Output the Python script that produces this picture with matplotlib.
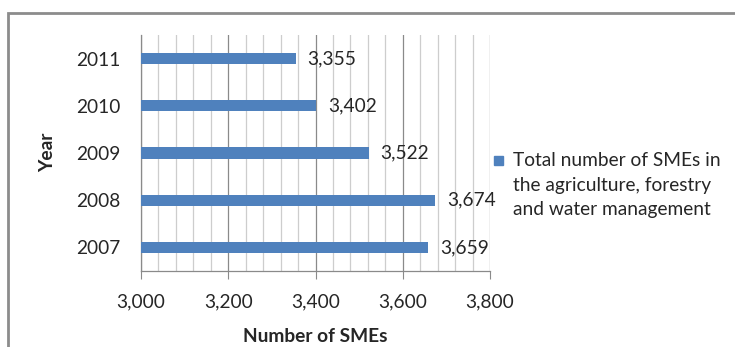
import matplotlib
matplotlib.use("Agg")
import matplotlib.pyplot as plt
from matplotlib.patches import Rectangle
from matplotlib.ticker import MultipleLocator, FuncFormatter

years = ["2007", "2008", "2009", "2010", "2011"]
smes = [3659, 3674, 3522, 3402, 3355]
series_lines = ["Total number of SMEs in",
                "the agriculture, forestry",
                "and water management"]

plt.rcParams["font.family"] = ["Lato", "DejaVu Sans"]
bar_color = "#4F81BD"
text_color = "#262626"
fs = 13.8

W, H = 735, 347
fig = plt.figure(figsize=(W / 100, H / 100), dpi=100)
ax = fig.add_axes([141 / W, (H - 271) / H, 349 / W, 236 / H])

# outer chart frame (left and top edges visible)
fig.patches.append(Rectangle((8 / W, -0.1), 2.0, (H - 13) / H + 0.1,
                             transform=fig.transFigure, fill=False,
                             edgecolor="#8C8C8C", linewidth=2.0))

ypos = list(range(len(years)))
ax.barh(ypos, smes, height=0.235, color=bar_color, zorder=3)
for y, v in zip(ypos, smes):
    ax.text(v + 27, y, f"{v:,}", va="center", ha="left",
            fontsize=fs, color=text_color, zorder=4)

ax.set_xlim(3000, 3800)
ax.set_ylim(-0.5, 4.5)
ax.set_yticks(ypos)
ax.set_yticklabels(years)
ax.xaxis.set_major_locator(MultipleLocator(200))
ax.xaxis.set_minor_locator(MultipleLocator(40))
ax.xaxis.set_major_formatter(FuncFormatter(lambda v, p: f"{int(v):,}"))

ax.grid(which="major", axis="x", color="#8A8A8A", linewidth=0.9, zorder=1)
ax.grid(which="minor", axis="x", color="#CDCDCD", linewidth=0.9, zorder=1)
ax.tick_params(axis="x", which="major", length=6, color="#8A8A8A",
               labelsize=fs, labelcolor=text_color, pad=10)
ax.tick_params(axis="x", which="minor", length=0)
ax.tick_params(axis="y", length=0, labelsize=fs, labelcolor=text_color, pad=15)

for side in ("top", "right"):
    ax.spines[side].set_visible(False)
for side in ("left", "bottom"):
    ax.spines[side].set_color("#8A8A8A")
    ax.spines[side].set_linewidth(0.9)

ax.set_xlabel("Number of SMEs", fontsize=fs, fontweight="bold",
              color=text_color)
ax.set_ylabel("Year", fontsize=fs, fontweight="bold", color=text_color)
ax.xaxis.set_label_coords((315 - 141) / 349, (271 - 337) / 236)
ax.yaxis.set_label_coords((48 - 141) / 349, (271 - 152) / 236)
ax.xaxis.label.set_va("center")
ax.yaxis.label.set_va("center")

# series key
fig.patches.append(Rectangle((494 / W, (H - 165) / H), 9 / W, 9 / H,
                             transform=fig.transFigure, color=bar_color))
for i, line in enumerate(series_lines):
    fig.text(513 / W, (H - (161 + 24 * i)) / H, line, fontsize=fs,
             color=text_color, ha="left", va="center")

fig.savefig("out.png", dpi=100)
